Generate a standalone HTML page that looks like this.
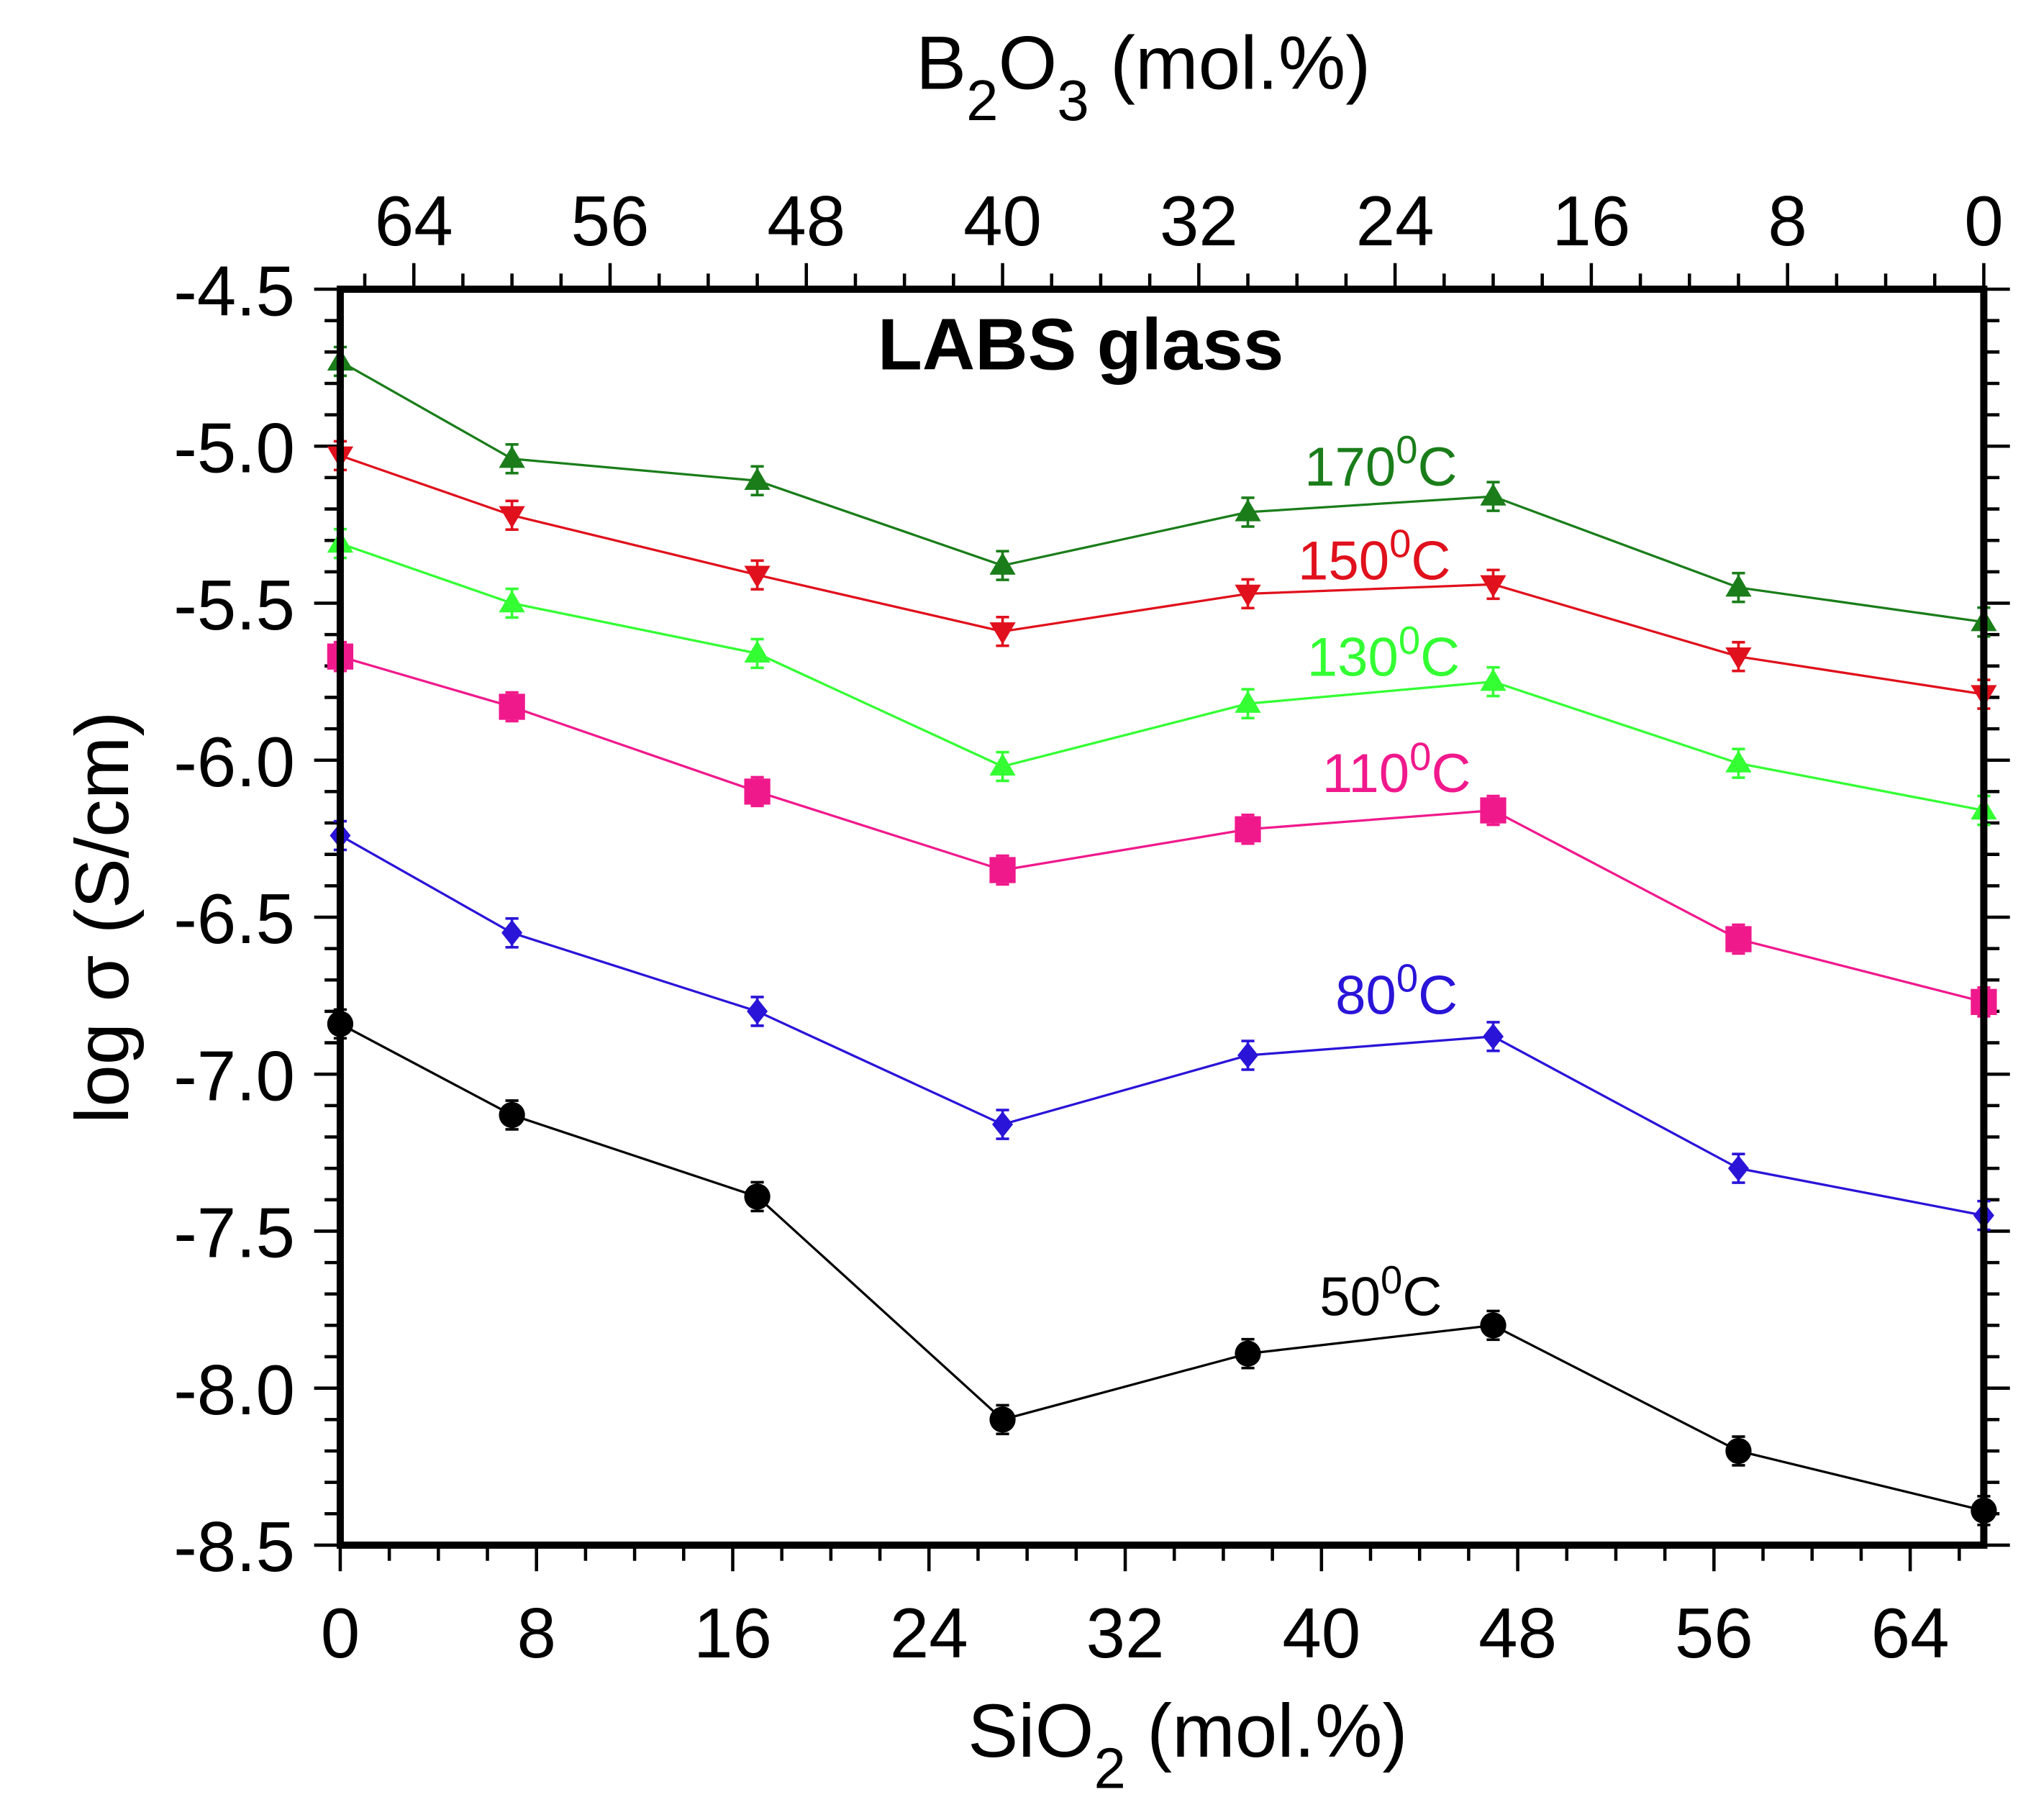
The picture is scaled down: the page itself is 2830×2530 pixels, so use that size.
<!DOCTYPE html>
<html><head><meta charset="utf-8">
<style>
html,body{margin:0;padding:0;background:#fff;}
svg{display:block;font-family:"Liberation Sans",Arial,sans-serif;}
</style></head>
<body>
<svg id="chart" width="2830" height="2530" viewBox="0 0 1560 1394.6" xmlns="http://www.w3.org/2000/svg">
<g id="ticks"></g>
<g id="series"></g>
<rect x="260.7" y="221.6" width="1259.3" height="962.4" fill="none" stroke="#000" stroke-width="5.5"/>
<text x="828" y="283" font-size="56" font-weight="bold" text-anchor="middle">LABS glass</text>
<text x="910" y="1346" font-size="58" text-anchor="middle">SiO<tspan font-size="44" dy="24">2</tspan><tspan dy="-24"> (mol.%)</tspan></text>
<text x="876" y="68" font-size="58" text-anchor="middle">B<tspan font-size="44" dy="24">2</tspan><tspan dy="-24">O</tspan><tspan font-size="44" dy="24">3</tspan><tspan dy="-24"> (mol.%)</tspan></text>
<text transform="translate(98,703) rotate(-90)" font-size="58" text-anchor="middle">log σ (S/cm)</text>
<g id="labels"></g>
<script>
const xs = [0, 7, 17, 27, 37, 47, 57, 67];
const s170 = [-4.73, -5.04, -5.11, -5.38, -5.21, -5.16, -5.45, -5.56];
const s150 = [-5.03, -5.22, -5.41, -5.59, -5.47, -5.44, -5.67, -5.79];
const s130 = [-5.31, -5.50, -5.66, -6.02, -5.82, -5.75, -6.01, -6.16];
const s110 = [-5.67, -5.83, -6.10, -6.35, -6.22, -6.16, -6.57, -6.77];
const s80 = [-6.24, -6.55, -6.80, -7.16, -6.94, -6.88, -7.30, -7.45];
const s50 = [-6.84, -7.13, -7.39, -8.10, -7.89, -7.80, -8.20, -8.39];
const yTicks = [-4.5, -5.0, -5.5, -6.0, -6.5, -7.0, -7.5, -8.0, -8.5];
const xTicks = [0, 8, 16, 24, 32, 40, 48, 56, 64];
const topTicks = [64, 56, 48, 40, 32, 24, 16, 8, 0];
const seriesNames = ["170", "150", "130", "110", "80", "50"];

const NS = "http://www.w3.org/2000/svg";
const L = 260.7, R = 1520, T = 221.6, Bt = 1184;
const X = v => L + (v / 67) * (R - L);
const Y = v => T + (-4.5 - v) / 4.0 * (Bt - T);
const B = b => X(67 - b);
function mk(tag, attrs, parent) {
  const e = document.createElementNS(NS, tag);
  for (const k in attrs) e.setAttribute(k, attrs[k]);
  parent.appendChild(e);
  return e;
}
const tg = document.getElementById('ticks');
for (let i = 0; i <= 40; i++) {
  const v = -4.5 - i * 0.1, y = Y(v), major = i % 5 === 0;
  const l = mk('line', {x1: L - (major ? 20 : 12), x2: L, y1: y, y2: y, stroke: '#000', 'stroke-width': 2.5}, tg);
  
  
  const r = mk('line', {x1: R, x2: R + (major ? 20 : 12), y1: y, y2: y, stroke: '#000', 'stroke-width': 2.5}, tg);
  
  
}
yTicks.forEach(v => {
  const t = mk('text', {x: 226, y: Y(v) + 20, 'font-size': 54, 'text-anchor': 'end'}, tg);
  t.textContent = v.toFixed(1);
  
  
});
for (let v = 0; v <= 66; v += 2) {
  const major = v % 8 === 0;
  const l = mk('line', {x1: X(v), x2: X(v), y1: Bt, y2: Bt + (major ? 20 : 12), stroke: '#000', 'stroke-width': 2.5}, tg);
  
  
}
xTicks.forEach(v => {
  const t = mk('text', {x: X(v), y: 1270, 'font-size': 54, 'text-anchor': 'middle'}, tg);
  t.textContent = v;
  
  
});
for (let b = 0; b <= 66; b += 2) {
  const major = b % 8 === 0;
  const l = mk('line', {x1: B(b), x2: B(b), y1: T, y2: T - (major ? 20 : 12), stroke: '#000', 'stroke-width': 2.5}, tg);
  
  
}
topTicks.forEach(b => {
  const t = mk('text', {x: B(b), y: 188, 'font-size': 54, 'text-anchor': 'middle'}, tg);
  t.textContent = b;
  
  
});
const sg = document.getElementById('series');
const defs = [
  {d: s170, c: '#1a7d1a', m: 'tri', lx: 1058, ly: 372},
  {d: s150, c: '#e0101c', m: 'tridown', lx: 1053, ly: 444},
  {d: s130, c: '#33ff33', m: 'tri', lx: 1060, ly: 518},
  {d: s110, c: '#f0198c', m: 'sq', lx: 1070, ly: 607},
  {d: s80, c: '#2a14d8', m: 'dia', lx: 1070, ly: 777},
  {d: s50, c: '#000', m: 'circ', lx: 1058, ly: 1008},
];
const lg = document.getElementById('labels');
defs.forEach((s, si) => {
  const pts = s.d.map((v, i) => X(xs[i]) + ',' + Y(v)).join(' ');
  const pl = mk('polyline', {points: pts, fill: 'none', stroke: s.c, 'stroke-width': 1.8}, sg);
  
  
  s.d.forEach((v, i) => {
    const x = X(xs[i]), y = Y(v);
    const eb = mk('path', {d: `M${x},${y-11}V${y+11}M${x-5},${y-11}H${x+5}M${x-5},${y+11}H${x+5}`, stroke: s.c, 'stroke-width': 2, fill: 'none'}, sg);
    
    
    let m;
    if (s.m === 'tri') m = mk('polygon', {points: `${x},${y-10} ${x-10},${y+7} ${x+10},${y+7}`, fill: s.c}, sg);
    else if (s.m === 'tridown') m = mk('polygon', {points: `${x},${y+10} ${x-10},${y-7} ${x+10},${y-7}`, fill: s.c}, sg);
    else if (s.m === 'sq') m = mk('rect', {x: x-10, y: y-10, width: 20, height: 20, fill: s.c}, sg);
    else if (s.m === 'dia') m = mk('polygon', {points: `${x},${y-10} ${x+8},${y} ${x},${y+10} ${x-8},${y}`, fill: s.c}, sg);
    else m = mk('circle', {cx: x, cy: y, r: 10, fill: s.c}, sg);
    
    
  });
  const t = mk('text', {x: s.lx, y: s.ly, 'font-size': 42, fill: s.c, 'text-anchor': 'middle'}, lg);
  
  
  const a = mk('tspan', {}, t); a.textContent = seriesNames[si];
  const b = mk('tspan', {'font-size': 30, dy: -17}, t); b.textContent = '0';
  const c = mk('tspan', {dy: 17}, t); c.textContent = 'C';
});
</script>
</svg>
</body></html>
